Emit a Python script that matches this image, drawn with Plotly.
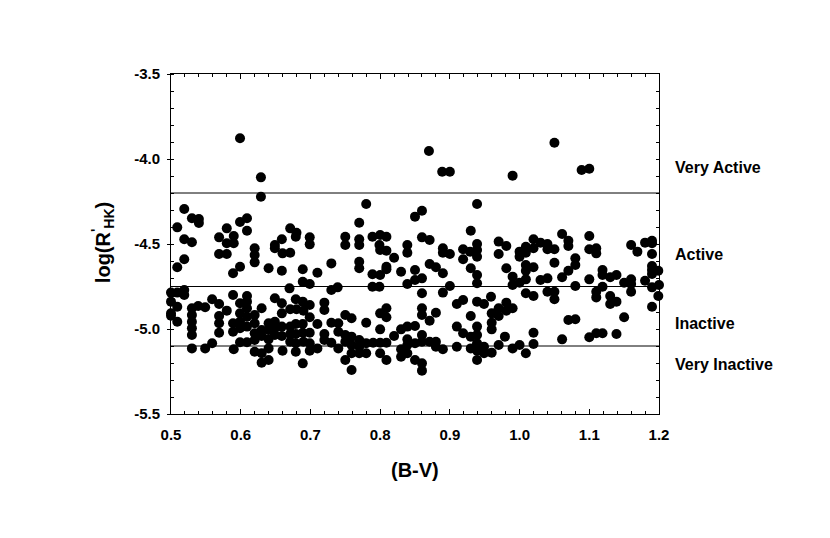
import plotly.graph_objects as go

# ---------------- data (B-V colour, log R'HK) ----------------
bv_top = [0.599, 0.629, 0.629, 0.870, 0.889, 0.900, 0.990, 1.050, 1.089, 1.100]
rhk_top = [-3.878, -4.108, -4.222, -3.953, -4.075, -4.075, -4.098, -3.904, -4.065, -4.057]

bv_a1 = [0.519, 0.509, 0.530, 0.540, 0.540, 0.519, 0.530, 0.519, 0.509, 0.569,
         0.580, 0.580, 0.590, 0.590, 0.569, 0.580, 0.599, 0.609, 0.609, 0.599,
         0.589, 0.620, 0.620, 0.620, 0.640, 0.649, 0.649, 0.659, 0.660, 0.659]
rhk_a1 = [-4.294, -4.402, -4.349, -4.353, -4.376, -4.472, -4.490, -4.590, -4.637, -4.461,
          -4.408, -4.496, -4.496, -4.453, -4.559, -4.559, -4.371, -4.349, -4.422, -4.634,
          -4.672, -4.525, -4.565, -4.608, -4.643, -4.506, -4.525, -4.472, -4.555, -4.657]

bv_b1 = [0.500, 0.509, 0.519, 0.519, 0.500, 0.509, 0.500, 0.500, 0.509,
         0.530, 0.539, 0.549, 0.530, 0.530, 0.530, 0.530, 0.530, 0.549,
         0.559, 0.559, 0.569, 0.569, 0.569, 0.569, 0.580, 0.589, 0.589, 0.589,
         0.590, 0.599, 0.599, 0.599, 0.599, 0.599,
         0.609, 0.609, 0.609, 0.609, 0.609, 0.609,
         0.620, 0.620, 0.620, 0.620, 0.620,
         0.630, 0.630, 0.630, 0.630, 0.630,
         0.640, 0.640, 0.640, 0.640, 0.640,
         0.649, 0.649, 0.649, 0.649,
         0.659, 0.659, 0.659, 0.659, 0.660]
rhk_b1 = [-4.786, -4.786, -4.771, -4.800, -4.839, -4.869, -4.908, -4.922, -4.957,
          -4.878, -4.865, -4.872, -4.918, -4.957, -4.996, -5.035, -5.114, -5.114,
          -5.084, -4.825, -4.853, -4.924, -4.966, -5.022, -4.892, -4.800, -4.966, -5.016,
          -5.119, -4.849, -4.908, -4.957, -4.996, -5.078,
          -4.806, -4.839, -4.878, -4.928, -4.986, -5.078,
          -4.918, -4.966, -5.025, -5.065, -5.134,
          -4.878, -5.006, -5.041, -5.143, -5.198,
          -4.966, -5.006, -5.061, -5.114, -5.182,
          -4.819, -4.957, -4.996, -5.035,
          -4.849, -4.908, -4.986, -5.041, -5.128]

bv_a2 = [0.780, 0.770, 0.671, 0.680, 0.679, 0.671, 0.699, 0.699, 0.750, 0.750,
         0.770, 0.770, 0.770, 0.770, 0.789, 0.800, 0.809, 0.799, 0.800, 0.809,
         0.820, 0.809, 0.809, 0.800, 0.789, 0.830, 0.730, 0.710, 0.689, 0.689,
         0.699, 0.670, 0.730, 0.739, 0.789, 0.799]
rhk_a2 = [-4.265, -4.375, -4.408, -4.434, -4.457, -4.551, -4.461, -4.502, -4.457, -4.506,
          -4.472, -4.506, -4.604, -4.643, -4.457, -4.447, -4.457, -4.506, -4.535, -4.539,
          -4.581, -4.634, -4.649, -4.682, -4.678, -4.663, -4.614, -4.669, -4.649, -4.722,
          -4.735, -4.761, -4.771, -4.755, -4.751, -4.751]

bv_b2 = [0.679, 0.689, 0.699, 0.671, 0.680, 0.690, 0.699, 0.671, 0.679, 0.689,
         0.671, 0.679, 0.689, 0.699, 0.671, 0.679, 0.690, 0.699, 0.679, 0.699,
         0.710, 0.689, 0.710, 0.720, 0.720, 0.720, 0.720, 0.730, 0.730, 0.740,
         0.740, 0.740, 0.750, 0.759, 0.750, 0.750, 0.750, 0.759, 0.759, 0.759,
         0.759, 0.770, 0.770, 0.770, 0.780, 0.780, 0.780, 0.790, 0.800, 0.800,
         0.800, 0.800, 0.809, 0.809, 0.809, 0.809, 0.820, 0.830, 0.830, 0.830]
rhk_b2 = [-4.825, -4.839, -4.859, -4.884, -4.884, -4.892, -4.931, -4.986, -4.971, -4.971,
          -5.029, -5.029, -5.022, -5.022, -5.075, -5.084, -5.075, -5.084, -5.134, -5.128,
          -5.114, -5.202, -4.971, -4.845, -4.888, -5.029, -5.065, -4.963, -5.081, -4.966,
          -5.016, -5.114, -4.918, -4.937, -5.035, -5.075, -5.182, -5.045, -5.094, -5.143,
          -5.241, -5.065, -5.104, -5.143, -4.963, -5.084, -5.143, -5.081, -4.908, -5.002,
          -5.081, -5.143, -4.878, -4.931, -5.081, -5.182, -5.041, -5.002, -5.119, -5.163]

bv_a3 = [0.939, 0.850, 0.860, 0.860, 0.871, 0.839, 0.839, 0.890, 0.890, 0.900,
         0.919, 0.919, 0.929, 0.930, 0.939, 0.939, 0.939, 0.970, 0.970, 0.981,
         1.000, 1.000, 0.850, 0.871, 0.880, 0.890, 0.860, 0.850, 0.839, 0.900,
         0.930, 0.939, 0.939, 0.981, 0.990, 0.990, 1.000, 0.860, 0.890]
rhk_a3 = [-4.265, -4.339, -4.304, -4.461, -4.476, -4.506, -4.551, -4.525, -4.551, -4.559,
          -4.531, -4.590, -4.545, -4.422, -4.500, -4.535, -4.575, -4.486, -4.559, -4.512,
          -4.545, -4.575, -4.653, -4.618, -4.637, -4.672, -4.702, -4.712, -4.735, -4.747,
          -4.643, -4.682, -4.731, -4.643, -4.692, -4.741, -4.728, -4.790, -4.786]

bv_b3 = [0.910, 0.919, 0.939, 0.949, 0.959, 0.860, 0.860, 0.880, 0.871, 0.930,
         0.960, 0.960, 0.960, 0.970, 0.970, 0.981, 0.981, 0.990, 0.839, 0.850,
         0.910, 0.919, 0.939, 0.939, 0.930, 0.979, 0.839, 0.839, 0.850, 0.860,
         0.860, 0.871, 0.880, 0.880, 0.890, 0.839, 0.850, 0.860, 0.860, 0.910,
         0.930, 0.939, 0.939, 0.939, 0.949, 0.949, 0.960, 0.970, 0.990, 1.000]
rhk_b3 = [-4.853, -4.829, -4.839, -4.853, -4.810, -4.878, -4.918, -4.904, -4.951, -4.924,
          -4.908, -4.963, -5.002, -4.878, -4.924, -4.845, -4.892, -4.878, -4.986, -4.982,
          -4.986, -5.025, -4.986, -5.035, -5.045, -5.045, -5.061, -5.094, -5.084, -5.035,
          -5.075, -5.075, -5.075, -5.104, -5.119, -5.143, -5.182, -5.202, -5.245, -5.104,
          -5.114, -5.084, -5.128, -5.182, -5.104, -5.143, -5.139, -5.094, -5.114, -5.094]

bv_a4 = [1.009, 1.009, 1.020, 1.020, 1.030, 1.040, 1.040, 1.050, 1.009, 1.020,
         1.009, 1.009, 1.050, 1.030, 1.040, 1.061, 1.070, 1.070, 1.080, 1.080,
         1.070, 1.061, 1.080, 1.100, 1.100, 1.110, 1.110, 1.100, 1.119, 1.119,
         1.130, 1.139, 1.119, 1.150, 1.160, 1.160, 1.160, 1.169, 1.180, 1.190,
         1.190, 1.190, 1.190, 1.190, 1.199, 1.190, 1.180, 1.190, 1.200]
rhk_a4 = [-4.516, -4.551, -4.472, -4.525, -4.492, -4.500, -4.531, -4.531, -4.624, -4.637,
          -4.657, -4.708, -4.610, -4.712, -4.702, -4.441, -4.481, -4.512, -4.584, -4.624,
          -4.657, -4.696, -4.747, -4.453, -4.531, -4.525, -4.555, -4.708, -4.653, -4.682,
          -4.696, -4.682, -4.751, -4.728, -4.708, -4.735, -4.506, -4.545, -4.492, -4.481,
          -4.496, -4.559, -4.629, -4.653, -4.657, -4.676, -4.716, -4.755, -4.741]

bv_b4 = [1.009, 1.020, 1.040, 1.050, 1.050, 1.110, 1.110, 1.130, 1.130, 1.139,
         1.160, 1.199, 1.190, 1.150, 1.070, 1.080, 1.020, 1.020, 1.061, 1.100,
         1.110, 1.119, 1.139, 1.009]
rhk_b4 = [-4.790, -4.806, -4.781, -4.781, -4.825, -4.781, -4.814, -4.806, -4.853, -4.839,
          -4.781, -4.806, -4.869, -4.931, -4.947, -4.943, -5.022, -5.088, -5.061, -5.049,
          -5.025, -5.025, -5.029, -5.143]

# activity class boundaries and labels
boundaries = [-4.2, -4.75, -5.1]
class_labels = ["Very Active", "Active", "Inactive", "Very Inactive"]
class_label_y = [-4.05, -4.56, -4.965, -5.21]

x_tick_vals = [0.5, 0.6, 0.7, 0.8, 0.9, 1.0, 1.1, 1.2]
x_tick_text = ["0.5", "0.6", "0.7", "0.8", "0.9", "1.0", "1.1", "1.2"]
y_tick_vals = [-3.5, -4.0, -4.5, -5.0, -5.5]
y_tick_text = ["-3.5", "-4.0", "-4.5", "-5.0", "-5.5"]

bv = bv_top + bv_a1 + bv_b1 + bv_a2 + bv_b2 + bv_a3 + bv_b3 + bv_a4 + bv_b4
rhk = rhk_top + rhk_a1 + rhk_b1 + rhk_a2 + rhk_b2 + rhk_a3 + rhk_b3 + rhk_a4 + rhk_b4

FONT = "Liberation Sans, Arial, Helvetica, sans-serif"

fig = go.Figure()
fig.add_trace(go.Scatter(
    x=bv, y=rhk, mode="markers",
    marker=dict(size=10, color="black", line=dict(width=0)),
    cliponaxis=False, hoverinfo="x+y",
))
# helper trace for the mirrored (top/right) tick axes
fig.add_trace(go.Scatter(x=[None], y=[None], xaxis="x2", yaxis="y2",
                         mode="markers", showlegend=False, hoverinfo="skip"))

for b in boundaries:
    fig.add_shape(type="line", xref="paper", x0=0, x1=1, yref="y", y0=b, y1=b,
                  line=dict(color="black", width=1), layer="below")

for lab, ly in zip(class_labels, class_label_y):
    fig.add_annotation(text=lab, xref="paper", x=1.0287, xanchor="left",
                       yref="y", y=ly, yanchor="middle", showarrow=False,
                       font=dict(family=FONT, size=16, color="black", weight="bold"))

fig.add_annotation(text="(B-V)", xref="paper", x=0.5, xanchor="center",
                   yref="paper", y=-0.165, yanchor="middle", showarrow=False,
                   font=dict(family=FONT, size=20, color="black", weight="bold"))
fig.add_annotation(text="log(R<sup>'</sup><sub>HK</sub>)", xref="paper", x=-0.139,
                   xanchor="center", yref="paper", y=0.503, yanchor="middle",
                   textangle=-90, showarrow=False,
                   font=dict(family=FONT, size=20, color="black", weight="bold"))

tickfont = dict(family=FONT, size=15, color="black", weight="bold")

# the page body adds an 8 px offset, so the margins are reduced accordingly
fig.update_layout(
    width=830, height=538,
    margin=dict(l=163, r=179, t=66, b=132),
    plot_bgcolor="white", paper_bgcolor="white",
    showlegend=False,
    xaxis=dict(
        range=[0.5, 1.2], tickmode="array", tickvals=x_tick_vals, ticktext=x_tick_text,
        ticks="inside", ticklen=5, tickwidth=1, tickcolor="black",
        minor=dict(tickmode="linear", tick0=0.5, dtick=0.02, ticks="inside",
                   ticklen=3, tickwidth=1, tickcolor="black", showgrid=False),
        showline=True, linecolor="black", linewidth=1, mirror=True,
        showgrid=False, zeroline=False, tickfont=tickfont,
        ticklabelstandoff=7, layer="below traces",
    ),
    yaxis=dict(
        range=[-5.5, -3.5], tickmode="array", tickvals=y_tick_vals, ticktext=y_tick_text,
        ticks="outside", ticklen=3, tickwidth=1, tickcolor="black",
        minor=dict(tickmode="linear", tick0=-5.5, dtick=0.1, ticks="inside",
                   ticklen=3, tickwidth=1, tickcolor="black", showgrid=False),
        showline=True, linecolor="black", linewidth=1, mirror=True,
        showgrid=False, zeroline=False, tickfont=tickfont,
        ticklabelstandoff=4, layer="below traces",
    ),
    xaxis2=dict(
        range=[0.5, 1.2], overlaying="x", side="top", anchor="y",
        tickmode="array", tickvals=x_tick_vals, showticklabels=False,
        ticks="inside", ticklen=5, tickwidth=1, tickcolor="black",
        minor=dict(tickmode="linear", tick0=0.5, dtick=0.02, ticks="inside",
                   ticklen=3, tickwidth=1, tickcolor="black", showgrid=False),
        showline=False, showgrid=False, zeroline=False, layer="below traces",
    ),
    yaxis2=dict(
        range=[-5.5, -3.5], overlaying="y", side="right", anchor="x",
        tickmode="linear", tick0=-5.5, dtick=0.1, showticklabels=False,
        ticks="inside", ticklen=3, tickwidth=1, tickcolor="black",
        showline=False, showgrid=False, zeroline=False, layer="below traces",
    ),
)

fig.write_html("out.html")
